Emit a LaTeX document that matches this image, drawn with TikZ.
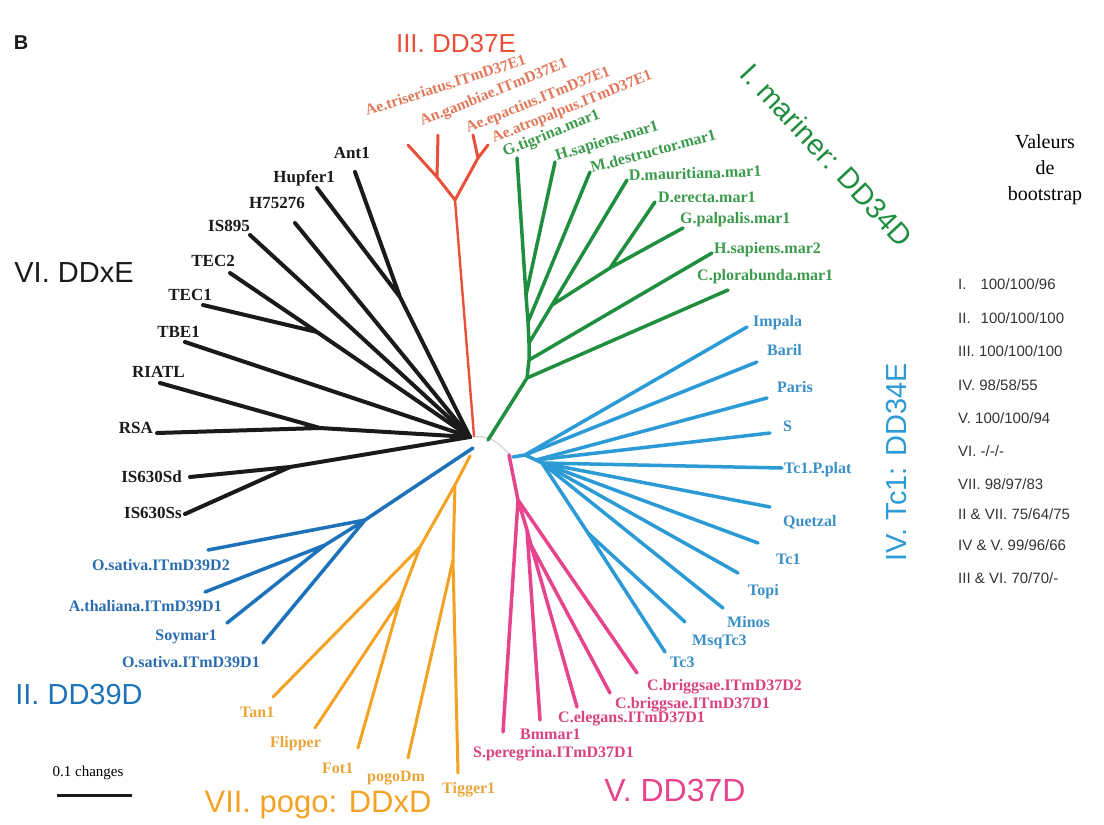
\documentclass[tikz,border=0pt]{standalone}
\usepackage{fontspec}
\setmainfont{Liberation Serif}
\setsansfont{Liberation Sans}
\definecolor{cBlack}{HTML}{1A1A1A}
\definecolor{cRed}{HTML}{E8503A}
\definecolor{cRedTxt}{HTML}{E2785A}
\definecolor{cGreen}{HTML}{1F8F3F}
\definecolor{cGreenTxt}{HTML}{3C9A4C}
\definecolor{cBlueR}{HTML}{2B9AD5}
\definecolor{cBlueRTxt}{HTML}{3A8FC6}
\definecolor{cBlueL}{HTML}{1E72BA}
\definecolor{cBlueLTxt}{HTML}{2A6CAE}
\definecolor{cPink}{HTML}{E6448C}
\definecolor{cPinkTxt}{HTML}{D9437F}
\definecolor{cOrange}{HTML}{F4A223}
\definecolor{cOrangeTxt}{HTML}{E9A53A}

\begin{document}
\begin{tikzpicture}[x=1pt,y=-1pt,
branch/.style={
	% The line:
	line width=3.5pt,line cap=round,line join=round},
stem/.style={
	% thinner line for the long red stem
	line width=2.4pt,line cap=round},
taxon/.style={
	% The font:
	font=\fontsize{16}{18}\selectfont\bfseries,
	inner sep=0pt},
blacktaxon/.style={
	taxon,font=\fontsize{17}{19}\selectfont\bfseries,
	text=cBlack,anchor=base east},
redtaxon/.style={
	taxon,font=\fontsize{15.5}{17}\selectfont\bfseries,
	text=cRedTxt,anchor=base west,rotate=22},
family/.style={
	% The font:
	font=\sffamily\fontsize{29}{32}\selectfont,
	inner sep=0pt},
tablerow/.style={
	font=\sffamily\fontsize{15}{17}\selectfont,
	text=black!80,anchor=base west,inner sep=0pt}]

\useasboundingbox (0,0) rectangle (1104,825);

%Begin coordinates of the tree
% VI. DDxE
\coordinate (hubVI) at (470,437);
\coordinate (ant1) at (355,172);
\coordinate (hupfer1) at (317,188);
\coordinate (nAH) at (400,297);
\coordinate (h75276) at (295,223);
\coordinate (is895) at (250,235);
\coordinate (tec2) at (230,273);
\coordinate (tec1) at (203,305);
\coordinate (nTEC) at (317,332);
\coordinate (tbe1) at (185,342);
\coordinate (riatl) at (160,383);
\coordinate (rsa) at (157,433);
\coordinate (nRR) at (320,428);
\coordinate (is630sd) at (190,477);
\coordinate (is630ss) at (185,514);
\coordinate (nIS) at (290,467);
% III. DD37E
\coordinate (baseIII) at (474,436);
\coordinate (rJ) at (455,200);
\coordinate (rL) at (437,177);
\coordinate (rR) at (478,158);
\coordinate (triser) at (408,145);
\coordinate (gambiae) at (438,135);
\coordinate (epact) at (473,135);
\coordinate (atrop) at (488,145);
% I. mariner
\coordinate (baseI) at (488,440);
\coordinate (g0) at (527,378);
\coordinate (g1) at (529,360);
\coordinate (g2) at (529,343);
\coordinate (g3) at (552,305);
\coordinate (g4) at (610,268);
\coordinate (g5) at (528,322);
\coordinate (g6) at (526,295);
\coordinate (gtig) at (517,158);
\coordinate (hsap1) at (555,162);
\coordinate (mdest) at (590,172);
\coordinate (dmaur) at (627,180);
\coordinate (derecta) at (655,202);
\coordinate (gpalp) at (683,228);
\coordinate (hsap2) at (712,253);
\coordinate (cplor) at (728,290);
% IV. Tc1
\coordinate (baseIV) at (513,457);
\coordinate (b1) at (525,455);
\coordinate (b2) at (536,460);
\coordinate (b3) at (542,463);
\coordinate (b4) at (588,533);
\coordinate (impala) at (747,327);
\coordinate (baril) at (757,362);
\coordinate (paris) at (767,398);
\coordinate (s) at (770,433);
\coordinate (tcpplat) at (782,468);
\coordinate (quetzal) at (770,507);
\coordinate (tc1) at (758,543);
\coordinate (topi) at (738,573);
\coordinate (minos) at (723,608);
\coordinate (msqtc3) at (685,622);
\coordinate (tc3) at (665,652);
% V. DD37D
\coordinate (baseV) at (509,455);
\coordinate (p1) at (518,500);
\coordinate (p2) at (527,530);
\coordinate (p3) at (531,545);
\coordinate (sperg) at (503,732);
\coordinate (bmmar1) at (540,720);
\coordinate (celeg) at (577,707);
\coordinate (cbrig1) at (610,693);
\coordinate (cbrig2) at (637,673);
% VII. pogo
\coordinate (baseVII) at (470,456);
\coordinate (o1) at (455,485);
\coordinate (o2) at (420,547);
\coordinate (o3) at (453,560);
\coordinate (o4) at (400,600);
\coordinate (tan1) at (273,697);
\coordinate (flipper) at (315,728);
\coordinate (fot1) at (358,748);
\coordinate (pogodm) at (408,758);
\coordinate (tigger1) at (458,773);
% II. DD39D
\coordinate (baseII) at (473,448);
\coordinate (bL1) at (365,520);
\coordinate (bL2) at (325,545);
\coordinate (osatd2) at (208,550);
\coordinate (athal) at (205,592);
\coordinate (soymar1) at (227,623);
\coordinate (osatd1) at (263,643);
%End coordinates

% Now come the branches...
\draw[gray!35,line width=1.2pt] (hubVI) .. controls (490,436) .. (baseIV);
\draw[branch,cBlack,line width=4pt] (hubVI) -- (nAH) -- (ant1) (nAH) -- (hupfer1)
	(hubVI) -- (nTEC) -- (tec2) (nTEC) -- (tec1)
	(hubVI) -- (nRR) -- (rsa) (nRR) -- (riatl)
	(hubVI) -- (nIS) -- (is630sd) (nIS) -- (is630ss);
\foreach \t in {h75276,is895,tbe1}
	\draw[branch,cBlack,line width=4pt] (hubVI) -- (\t);

\draw[stem,cRed] (baseIII) -- (rJ);
\draw[branch,cRed,line width=3pt] (rJ) -- (rL) -- (triser) (rL) -- (gambiae)
	(rJ) -- (rR) -- (atrop) (rR) -- (epact);

\draw[branch,cGreen] (baseI) -- (g0) -- (cplor) (g0) -- (g1) -- (hsap2)
	(g1) -- (g2) -- (g3) -- (dmaur) (g3) -- (g4) -- (derecta) (g4) -- (gpalp)
	(g2) -- (g5) -- (mdest) (g5) -- (g6) -- (gtig) (g6) -- (hsap1);

\draw[branch,cBlueR] (baseIV) -- (b1) -- (b2) -- (b3) -- (b4) -- (tc3) (b4) -- (msqtc3);
\foreach \t in {impala,baril}
	\draw[branch,cBlueR] (b1) -- (\t);
\foreach \t in {paris,s}
	\draw[branch,cBlueR] (b2) -- (\t);
\foreach \t in {tcpplat,quetzal,tc1,topi,minos}
	\draw[branch,cBlueR] (b3) -- (\t);

\draw[branch,cPink] (baseV) -- (p1) -- (sperg) (p1) -- (cbrig2)
	(p1) -- (p2) -- (bmmar1) (p2) -- (p3) -- (celeg) (p3) -- (cbrig1);

\draw[branch,cOrange,line width=3pt] (baseVII) -- (o1) -- (o2) -- (tan1) (o2) -- (o4) -- (flipper) (o4) -- (fot1)
	(o1) -- (o3) -- (pogodm) (o3) -- (tigger1);

\draw[branch,cBlueL] (baseII) -- (bL1) -- (osatd2) (bL1) -- (osatd1)
	(bL1) -- (bL2) -- (athal) (bL2) -- (soymar1);

% taxon names
\node (lant1) [blacktaxon] at (370,158) {Ant1};
\node (lhupfer1) [blacktaxon] at (335,182) {Hupfer1};
\node (lh75276) [blacktaxon] at (305,208) {H75276};
\node (lis895) [blacktaxon] at (250,231) {IS895};
\node (ltec2) [blacktaxon] at (235,266) {TEC2};
\node (ltec1) [blacktaxon] at (212,300) {TEC1};
\node (ltbe1) [blacktaxon] at (200,337) {TBE1};
\node (lriatl) [blacktaxon] at (185,377) {RIATL};
\node (lrsa) [blacktaxon] at (153,433) {RSA};
\node (lis630sd) [blacktaxon] at (182,482) {IS630Sd};
\node (lis630ss) [blacktaxon] at (182,518) {IS630Ss};

\node (ltriser) [redtaxon,rotate=-4] at (367,116) {Ae.triseriatus.ITmD37E1};
\node (lgambiae) [redtaxon] at (422,126) {An.gambiae.ITmD37E1};
\node (lepact) [redtaxon] at (468,133) {Ae.epactius.ITmD37E1};
\node (latrop) [redtaxon] at (494,143) {Ae.atropalpus.ITmD37E1};

\node (lgtig) [taxon,text=cGreenTxt,anchor=base west,rotate=22] at (505,157) {G.tigrina.mar1};
\node (lhsap1) [taxon,text=cGreenTxt,anchor=base west,rotate=17] at (557,161) {H.sapiens.mar1};
\node (lmdest) [taxon,text=cGreenTxt,anchor=base west,rotate=15] at (592,173) {M.destructor.mar1};
\node (ldmaur) [taxon,text=cGreenTxt,anchor=base west,rotate=2] at (629,181) {D.mauritiana.mar1};
\node (lderecta) [taxon,text=cGreenTxt,anchor=base west] at (658,202) {D.erecta.mar1};
\node (lgpalp) [taxon,text=cGreenTxt,anchor=base west] at (680,223) {G.palpalis.mar1};
\node (lhsap2) [taxon,text=cGreenTxt,anchor=base west] at (714,253) {H.sapiens.mar2};
\node (lcplor) [taxon,text=cGreenTxt,anchor=base west] at (697,280) {C.plorabunda.mar1};

\node (limpala) [taxon,text=cBlueRTxt,anchor=base west] at (753,326) {Impala};
\node (lbaril) [taxon,text=cBlueRTxt,anchor=base west] at (767,355) {Baril};
\node (lparis) [taxon,text=cBlueRTxt,anchor=base west] at (777,392) {Paris};
\node (ls) [taxon,text=cBlueRTxt,anchor=base west] at (783,431) {S};
\node (ltcpplat) [taxon,text=cBlueRTxt,anchor=base west] at (784,473) {Tc1.P.plat};
\node (lquetzal) [taxon,text=cBlueRTxt,anchor=base west] at (783,526) {Quetzal};
\node (ltc1) [taxon,text=cBlueRTxt,anchor=base west] at (776,564) {Tc1};
\node (ltopi) [taxon,text=cBlueRTxt,anchor=base west] at (748,595) {Topi};
\node (lminos) [taxon,text=cBlueRTxt,anchor=base west] at (727,627) {Minos};
\node (lmsqtc3) [taxon,text=cBlueRTxt,anchor=base west] at (692,645) {MsqTc3};
\node (ltc3) [taxon,text=cBlueRTxt,anchor=base west] at (670,667) {Tc3};

\node (lcbrig2) [taxon,text=cPinkTxt,anchor=base west] at (647,690) {C.briggsae.ITmD37D2};
\node (lcbrig1) [taxon,text=cPinkTxt,anchor=base west] at (615,708) {C.briggsae.ITmD37D1};
\node (lceleg) [taxon,text=cPinkTxt,anchor=base west] at (558,722) {C.elegans.ITmD37D1};
\node (lbmmar1) [taxon,text=cPinkTxt,anchor=base west] at (520,739) {Bmmar1};
\node (lsperg) [taxon,text=cPinkTxt,anchor=base west] at (473,757) {S.peregrina.ITmD37D1};

\node (ltan1) [taxon,text=cOrangeTxt,anchor=base west] at (240,717) {Tan1};
\node (lflipper) [taxon,text=cOrangeTxt,anchor=base west] at (270,747) {Flipper};
\node (lfot1) [taxon,text=cOrangeTxt,anchor=base west] at (322,773) {Fot1};
\node (lpogodm) [taxon,text=cOrangeTxt,anchor=base west] at (367,781) {pogoDm};
\node (ltigger1) [taxon,text=cOrangeTxt,anchor=base west] at (442,793) {Tigger1};

\node (losatd2) [taxon,text=cBlueLTxt,anchor=base east] at (230,570) {O.sativa.ITmD39D2};
\node (lathal) [taxon,text=cBlueLTxt,anchor=base east] at (222,611) {A.thaliana.ITmD39D1};
\node (lsoymar1) [taxon,text=cBlueLTxt,anchor=base east] at (217,640) {Soymar1};
\node (losatd1) [taxon,text=cBlueLTxt,anchor=base east] at (260,667) {O.sativa.ITmD39D1};

% family names
\node (famIII) [family,text=cRed,font=\sffamily\fontsize{26}{30}\selectfont] at (456,44) {III. DD37E};
\node (famI) [family,text=cGreen,rotate=-47] at (827,155) {I. mariner: DD34D};
\node (famIV) [family,text=cBlueR,rotate=90] at (897,462) {IV. Tc1: DD34E};
\node (famV) [family,text=cPink,font=\sffamily\fontsize{32}{34}\selectfont] at (675,790) {V. DD37D};
\node (famVII) [family,text=cOrange,font=\sffamily\fontsize{31}{34}\selectfont] at (318,805) {VII. pogo: DDxD};
\node (famII) [family,text=cBlueL] at (79,695) {II. DD39D};
\node (famVI) [family,text=cBlack] at (74,273) {VI. DDxE};
\node (panel) [family,text=cBlack,font=\sffamily\bfseries\fontsize{20}{22}\selectfont] at (21,43) {B};

% scale bar
\node (scale) [font=\fontsize{15}{17}\selectfont] at (88,773) {0.1 changes};
\coordinate (barL) at (57,795);
\coordinate (barR) at (132,795);
\draw[cBlack,line width=3pt] (barL) -- (barR);

% bootstrap values
\node (boot) [align=center,font=\fontsize{20}{26}\selectfont] at (1045,170) {Valeurs\\de\\bootstrap};
\node (r1) [tablerow] at (958,289) {I.\hspace{14pt}100/100/96};
\node (r2) [tablerow] at (958,323) {II.\hspace{10pt}100/100/100};
\node (r3) [tablerow] at (958,356) {III. 100/100/100};
\node (r4) [tablerow] at (958,390) {IV. 98/58/55};
\node (r5) [tablerow] at (958,423) {V. 100/100/94};
\node (r6) [tablerow] at (958,456) {VI. -/-/-};
\node (r7) [tablerow] at (958,489) {VII. 98/97/83};
\node (r8) [tablerow] at (958,519) {II \& VII. 75/64/75};
\node (r9) [tablerow] at (958,550) {IV \& V. 99/96/66};
\node (r10) [tablerow] at (958,583) {III \& VI. 70/70/-};

\end{tikzpicture}
\end{document}
